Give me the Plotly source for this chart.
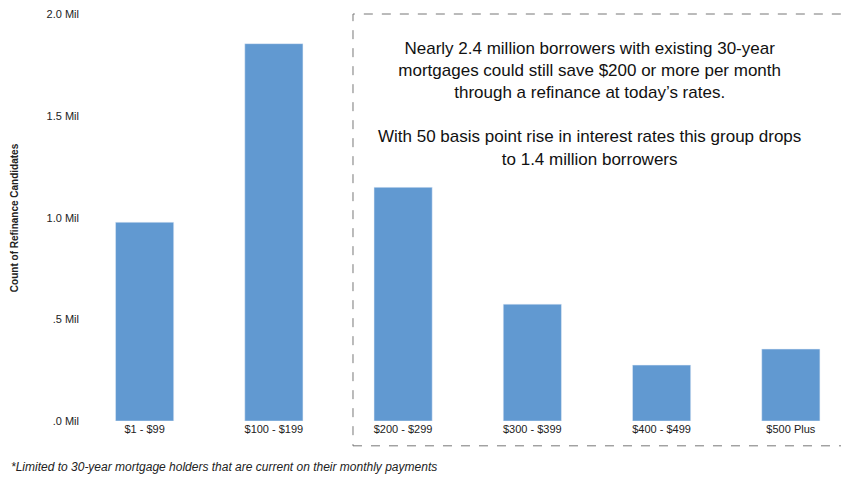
import plotly.graph_objects as go

categories = ["$1 - $99", "$100 - $199", "$200 - $299", "$300 - $399", "$400 - $499", "$500 Plus"]
candidates = [0.978, 1.857, 1.15, 0.575, 0.275, 0.354]  # millions
tick_vals = [0, 0.5, 1.0, 1.5, 2.0]
tick_text = [".0 Mil", ".5 Mil", "1.0 Mil", "1.5 Mil", "2.0 Mil"]

fig = go.Figure(go.Bar(x=categories, y=candidates, marker_color="#6199d1", width=0.45))

fig.update_layout(
    width=849, height=477,
    margin=dict(l=72, r=8, t=6, b=64, autoexpand=False),
    plot_bgcolor="white", paper_bgcolor="white",
    font=dict(family="Liberation Sans, Arial", color="#222"),
    showlegend=False,
)
fig.update_xaxes(range=[-0.5, 5.45], tickfont=dict(size=11), showline=False, ticks="", automargin=False)
fig.update_yaxes(range=[0, 2.003], tickvals=tick_vals, ticktext=tick_text, showgrid=False,
                 tickfont=dict(size=11), zeroline=False, ticklen=0, automargin=False)

fig.add_shape(type="rect", xref="paper", yref="paper", x0=0.355, x1=1.0, y0=-0.061, y1=1.0,
              line=dict(color="#777", width=1, dash="dash"))

fig.add_annotation(xref="paper", yref="paper", x=0.662, y=0.943, xanchor="center", yanchor="top",
                   showarrow=False, align="center", font=dict(size=17, color="#111"),
                   text="Nearly 2.4 million borrowers with existing 30-year<br>"
                        "mortgages could still save $200 or more per month<br>"
                        "through a refinance at today’s rates.<br><br>"
                        "With 50 basis point rise in interest rates this group drops<br>"
                        "to 1.4 million borrowers")
fig.add_annotation(xref="paper", yref="paper", x=-0.085, xanchor="center", y=0.5, yanchor="middle",
                   textangle=-90, showarrow=False,
                   text="<b>Count of Refinance Candidates</b>", font=dict(size=10))
fig.add_annotation(xref="paper", yref="paper", x=-0.092, xanchor="left", y=-0.113, yanchor="middle",
                   showarrow=False,
                   text="<i>*Limited to 30-year mortgage holders that are current on their monthly payments</i>",
                   font=dict(size=12))

fig.write_html("out.html")
